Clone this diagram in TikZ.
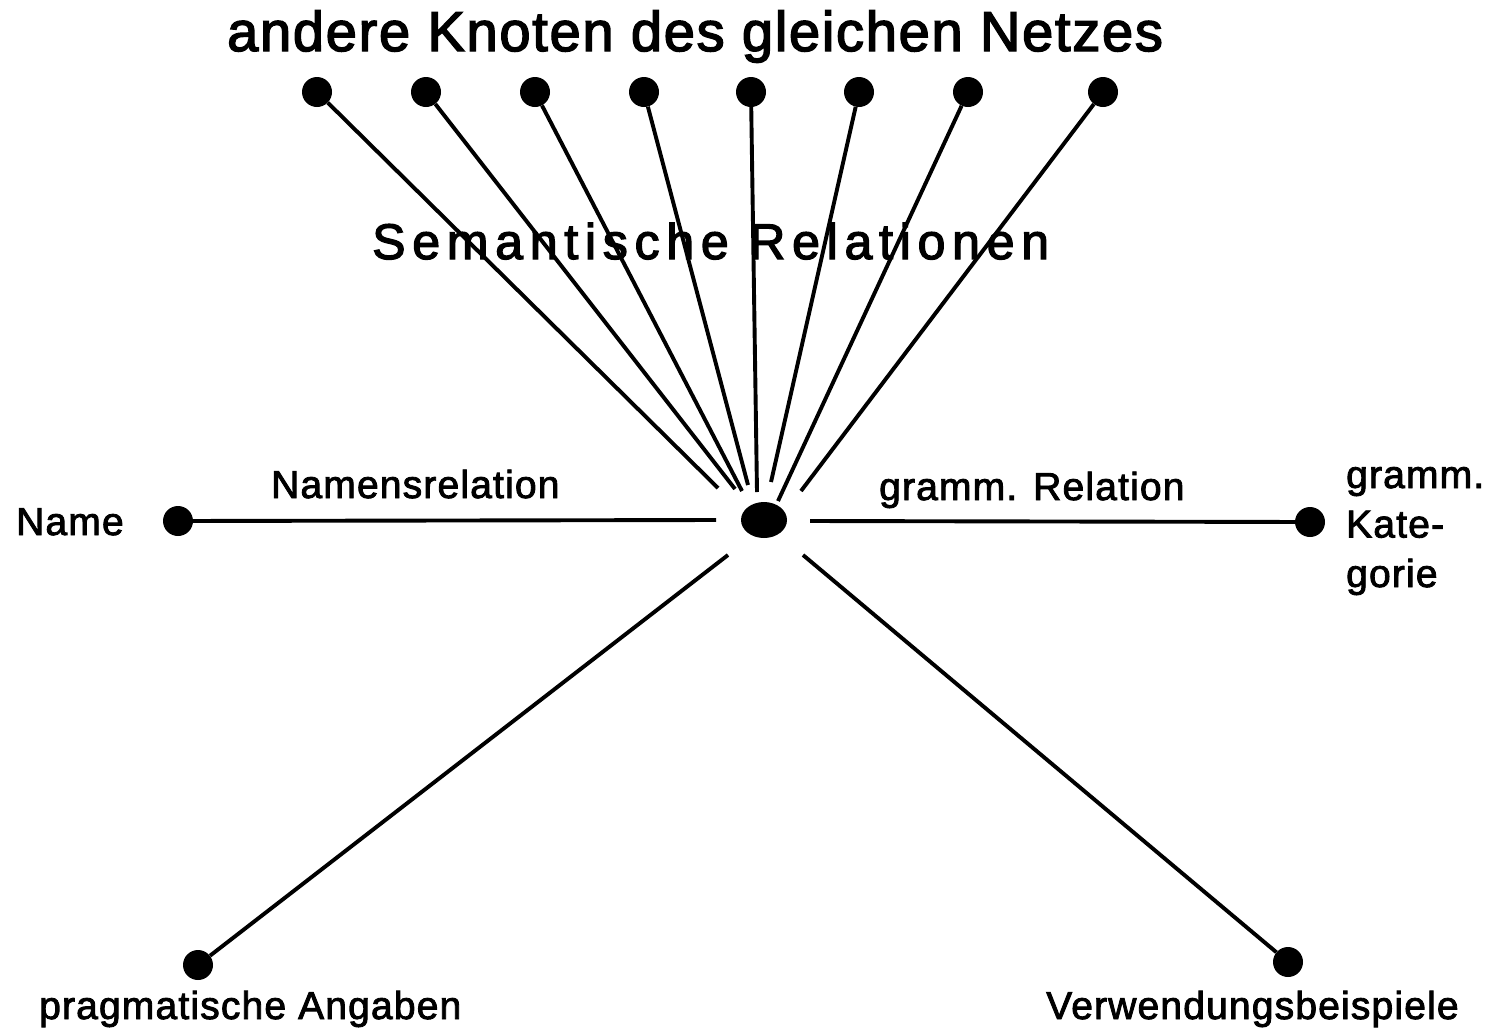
\documentclass[tikz,border=0pt]{standalone}
\usepackage{fontspec}
\setmainfont{Liberation Sans}
\newfontfamily\titlefont[LetterSpace=3.1,FakeBold=2.6]{Liberation Sans}
\newfontfamily\semfont[LetterSpace=13.5,FakeBold=2.6]{Liberation Sans}
\newfontfamily\labfont[LetterSpace=3.0,FakeBold=2.2]{Liberation Sans}
\usetikzlibrary{shapes.geometric}
\begin{document}
\begin{tikzpicture}[x=1pt,y=-1pt,
  dot/.style={circle,fill=black,inner sep=0pt,minimum size=30pt},
  conn/.style={line width=3.9pt},
  lab/.style={inner sep=0pt,anchor=base west,font=\labfont\fontsize{39}{49.5}\selectfont}]
\useasboundingbox[fill=white] (0,0) rectangle (1490,1034);

% texts
\node[inner sep=0pt,anchor=base west,font=\titlefont\fontsize{56}{60}\selectfont] (title) at (227,51) {andere Knoten des gleichen Netzes};
\node[inner sep=0pt,anchor=base west,font=\semfont\fontsize{50}{54}\selectfont] (sem) at (372,259) {Semantische Relationen};
\node[lab] (lname) at (16,535) {Name};
\node[lab] (lnamrel) at (271,498) {Namensrelation};
\node[lab] (lgrel) at (879,500) {gramm. Relation};
\node[lab,align=left] (lgkat) at (1346,587) {gramm.\\Kate-\\gorie};
\node[lab] (lprag) at (39,1019) {pragmatische Angaben};
\node[lab] (lverw) at (1046,1019) {Verwendungsbeispiele};

% centre
\node[ellipse,fill=black,inner sep=0pt,minimum width=46pt,minimum height=36pt] (c) at (764,520) {};

% top dots and their lines
\foreach \i/\x in {1/317,2/426,3/535,4/644,5/751,6/859,7/968,8/1103}
  \node[dot] (t\i) at (\x,92) {};
\coordinate (e1) at (718,488);
\coordinate (e2) at (735,489);
\coordinate (e3) at (742,491);
\coordinate (e4) at (748,485);
\coordinate (e5) at (757,492);
\coordinate (e6) at (771,482);
\coordinate (e7) at (778,501);
\coordinate (e8) at (801,491);
\foreach \i in {1,...,8}
  \draw[conn] (t\i) -- (e\i);

% side and bottom dots
\node[dot] (name) at (178,521) {};
\node[dot] (gkat) at (1310,522) {};
\node[dot] (prag) at (198,965) {};
\node[dot] (verw) at (1288,962) {};

\coordinate (eL) at (716,520);
\coordinate (eR) at (810,521);
\coordinate (eBL) at (728,555);
\coordinate (eBR) at (803,555);

\draw[conn] (name) -- (eL);
\draw[conn] (eR) -- (gkat);
\draw[conn] (prag) -- (eBL);
\draw[conn] (eBR) -- (verw);
\end{tikzpicture}
\end{document}
